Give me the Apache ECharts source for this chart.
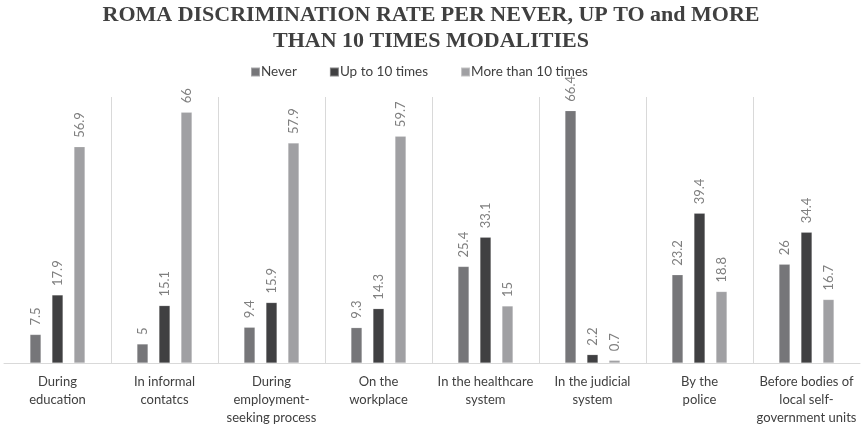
<!DOCTYPE html>
<html>
<head>
<meta charset="utf-8">
<script src="https://cdn.jsdelivr.net/npm/echarts@6/dist/echarts.min.js"></script>
<style>html,body{margin:0;padding:0;background:#fff}#c{width:862px;height:430px}</style>
</head>
<body>
<div id="c"></div>
<script>
const categories = [
  "During\neducation",
  "In informal\ncontatcs",
  "During\nemployment-\nseeking process",
  "On the\nworkplace",
  "In the healthcare\nsystem",
  "In the judicial\nsystem",
  "By the\npolice",
  "Before bodies of\nlocal self-\ngovernment units"
];
const seriesNames = ["Never", "Up to 10 times", "More than 10 times"];
const never = [7.5, 5, 9.4, 9.3, 25.4, 66.4, 23.2, 26];
const upTo10 = [17.9, 15.1, 15.9, 14.3, 33.1, 2.2, 39.4, 34.4];
const moreThan10 = [56.9, 66, 57.9, 59.7, 15, 0.7, 18.8, 16.7];
const colors = ["#767679", "#404042", "#a0a0a3"];

const chart = echarts.init(document.getElementById('c'), null, {renderer: 'canvas'});
const mk = (name, data, color) => ({
  name, type: 'bar', data, barWidth: 11, barGap: '100%',
  itemStyle: {color, borderColor: 'rgba(255,255,255,0.35)', borderWidth: 0.5},
  label: {
    show: true, position: 'top', rotate: 90, align: 'left', verticalAlign: 'middle',
    distance: 9, color: '#7f7f7f', fontFamily: 'Lato', fontSize: 13
  }
});
chart.setOption({
  animation: false,
  title: {
    text: "ROMA DISCRIMINATION RATE PER NEVER, UP TO and MORE\nTHAN 10 TIMES MODALITIES",
    left: 'center', top: -3,
    textStyle: {fontFamily: 'Liberation Serif', fontWeight: 'bold', fontSize: 22, color: '#404040', lineHeight: 26}
  },
  legend: {
    top: 60, left: 245, itemWidth: 9, itemHeight: 9, itemGap: 32,
    icon: 'rect',
    textStyle: {fontFamily: 'Lato', fontSize: 13.5, color: '#404040', padding: [0,0,0,-4]},
    data: seriesNames
  },
  grid: {left: 4, right: 2, top: 97, bottom: 67, containLabel: false},
  xAxis: {
    type: 'category', data: categories,
    axisLine: {lineStyle: {color: '#d9d9d9', width: 1}},
    axisTick: {show: false},
    axisLabel: {interval: 0, fontFamily: 'Lato', fontSize: 13, color: '#404040', lineHeight: 18, margin: 10},
    splitLine: {show: true, showMinLine: false, showMaxLine: false, lineStyle: {color: '#d9d9d9', width: 1}}
  },
  yAxis: {type: 'value', min: 0, max: 70, show: false, splitLine: {show: false}},
  series: [
    mk(seriesNames[0], never, colors[0]),
    mk(seriesNames[1], upTo10, colors[1]),
    mk(seriesNames[2], moreThan10, colors[2])
  ]
});
</script>
</body>
</html>
